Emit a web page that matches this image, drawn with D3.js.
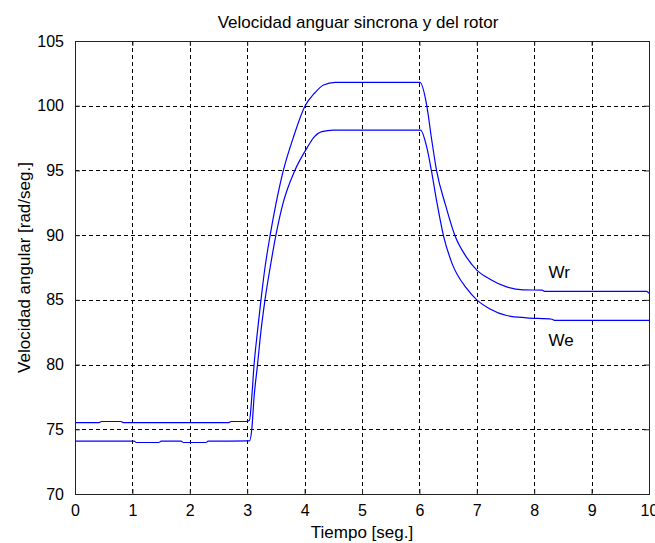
<!DOCTYPE html>
<html>
<head>
<meta charset="utf-8">
<script src="https://cdn.jsdelivr.net/npm/d3@7"></script>
<style>
  html, body { margin: 0; padding: 0; background: #ffffff; }
  svg { display: block; }
  text { font-family: "Liberation Sans", Arial, sans-serif; fill: #000; }
</style>
</head>
<body>
<svg id="chart" width="655" height="543"></svg>
<script>
const titleText = "Velocidad anguar sincrona y del rotor";
const xLabelText = "Tiempo [seg.]";
const yLabelText = "Velocidad angular [rad/seg.]";
const xTicks = [0, 1, 2, 3, 4, 5, 6, 7, 8, 9, 10];
const yTicks = [70, 75, 80, 85, 90, 95, 100, 105];
const seriesNames = ["Wr", "We"];

const wrTime = [0, 0.42, 0.46, 0.80, 0.84, 2.68, 2.72, 2.98, 3.04, 3.08, 3.12, 3.18, 3.24, 3.31, 3.40, 3.50, 3.63, 3.80, 4.01, 4.18, 4.33, 4.53, 5.0, 5.5, 6.01, 6.13, 6.21, 6.30, 6.45, 6.62, 6.82, 7.00, 7.23, 7.52, 7.81, 8.14, 8.18, 9.0, 9.96, 10.0];
const wrValues = [75.52, 75.52, 75.6, 75.6, 75.52, 75.52, 75.6, 75.6, 75.7, 77.5, 80.0, 82.6, 85.0, 87.5, 90.0, 92.4, 95.0, 97.5, 100.0, 101.0, 101.6, 101.8, 101.8, 101.8, 101.8, 99.97, 97.5, 94.96, 92.4, 89.95, 88.3, 87.3, 86.6, 86.0, 85.77, 85.75, 85.66, 85.66, 85.66, 85.5];

const weTime = [0, 1.03, 1.07, 1.46, 1.50, 1.85, 1.89, 2.28, 2.32, 3.04, 3.08, 3.12, 3.18, 3.24, 3.31, 3.40, 3.50, 3.62, 3.83, 4.05, 4.15, 4.30, 4.50, 5.0, 5.5, 6.02, 6.13, 6.21, 6.30, 6.42, 6.57, 6.82, 7.00, 7.23, 7.52, 7.87, 8.31, 8.35, 9.0, 10.0];
const weValues = [74.08, 74.08, 73.98, 73.98, 74.08, 74.08, 73.98, 73.98, 74.08, 74.1, 75.0, 77.5, 80.0, 82.6, 85.0, 87.5, 90.0, 92.4, 95.0, 96.8, 97.5, 98.0, 98.12, 98.12, 98.12, 98.12, 96.76, 94.96, 92.65, 89.95, 87.8, 85.9, 85.0, 84.3, 83.79, 83.61, 83.5, 83.42, 83.42, 83.42];

const labelPos = [{t: 8.25, v: 86.7}, {t: 8.25, v: 81.4}];

const W = 655, H = 543;
const margin = {left: 75, top: 41, right: 6, bottom: 49};
const iw = W - margin.left - margin.right;
const ih = H - margin.top - margin.bottom;

const svg = d3.select("#chart");
svg.append("rect").attr("width", W).attr("height", H).attr("fill", "#fff");
const g = svg.append("g").attr("transform", `translate(${margin.left},${margin.top})`);

const x = d3.scaleLinear().domain([0, 10]).range([0, iw]);
const y = d3.scaleLinear().domain([70, 105]).range([ih, 0]);

// grid
g.append("g").selectAll("line").data(xTicks.slice(1, -1)).join("line")
  .attr("x1", d => Math.round(x(d)) + 0.5).attr("x2", d => Math.round(x(d)) + 0.5)
  .attr("y1", 0).attr("y2", ih)
  .attr("stroke", "#000").attr("stroke-width", 1).attr("stroke-dasharray", "4,3");
g.append("g").selectAll("line").data(yTicks.slice(1, -1)).join("line")
  .attr("y1", d => Math.round(y(d)) + 0.5).attr("y2", d => Math.round(y(d)) + 0.5)
  .attr("x1", 0).attr("x2", iw)
  .attr("stroke", "#000").attr("stroke-width", 1).attr("stroke-dasharray", "4,3");

// axes
const fontSize = 16;
const xAxis = d3.axisBottom(x).tickValues(xTicks).tickSize(-5).tickPadding(11).tickFormat(d3.format("d"));
const yAxis = d3.axisLeft(y).tickValues(yTicks).tickSize(-5).tickPadding(11).tickFormat(d3.format("d"));
const xTop = d3.axisTop(x).tickValues(xTicks).tickSize(-5).tickFormat("");
const yRight = d3.axisRight(y).tickValues(yTicks).tickSize(-5).tickFormat("");

function styleAxis(sel) {
  sel.select(".domain").remove();
  sel.selectAll(".tick line").attr("stroke", "#222");
  sel.selectAll(".tick text").attr("font-size", fontSize).attr("fill", "#000")
    .attr("font-family", "Liberation Sans, Arial, sans-serif");
}
g.append("g").attr("transform", `translate(0,${ih})`).call(xAxis).call(styleAxis);
g.append("g").call(yAxis).call(styleAxis);
g.append("g").call(xTop).call(styleAxis);
g.append("g").attr("transform", `translate(${iw},0)`).call(yRight).call(styleAxis);

// frame
g.append("rect").attr("x", 0.5).attr("y", 0.5).attr("width", iw).attr("height", ih)
  .attr("fill", "none").attr("stroke", "#222").attr("stroke-width", 1);

// lines
const line = d3.line().x(d => x(d[0])).y(d => y(d[1])).curve(d3.curveMonotoneX);
const wrData = wrTime.map((t, i) => [t, wrValues[i]]);
const weData = weTime.map((t, i) => [t, weValues[i]]);
[wrData, weData].forEach(data => {
  g.append("path").datum(data).attr("d", line)
    .attr("fill", "none").attr("stroke", "#0000ff").attr("stroke-width", 1.2);
});

// series labels
g.selectAll(".slabel").data(seriesNames).join("text")
  .attr("class", "slabel")
  .attr("x", (d, i) => x(labelPos[i].t))
  .attr("y", (d, i) => y(labelPos[i].v))
  .attr("font-size", 17)
  .text(d => d);

// title and labels
svg.append("text").attr("x", margin.left + iw / 2 - 4).attr("y", 28)
  .attr("text-anchor", "middle").attr("font-size", 17).text(titleText);
svg.append("text").attr("x", margin.left + iw / 2).attr("y", 538)
  .attr("text-anchor", "middle").attr("font-size", 17).text(xLabelText);
svg.append("text").attr("transform", `translate(30,${margin.top + ih / 2}) rotate(-90)`)
  .attr("text-anchor", "middle").attr("font-size", 17).text(yLabelText);
</script>
</body>
</html>
